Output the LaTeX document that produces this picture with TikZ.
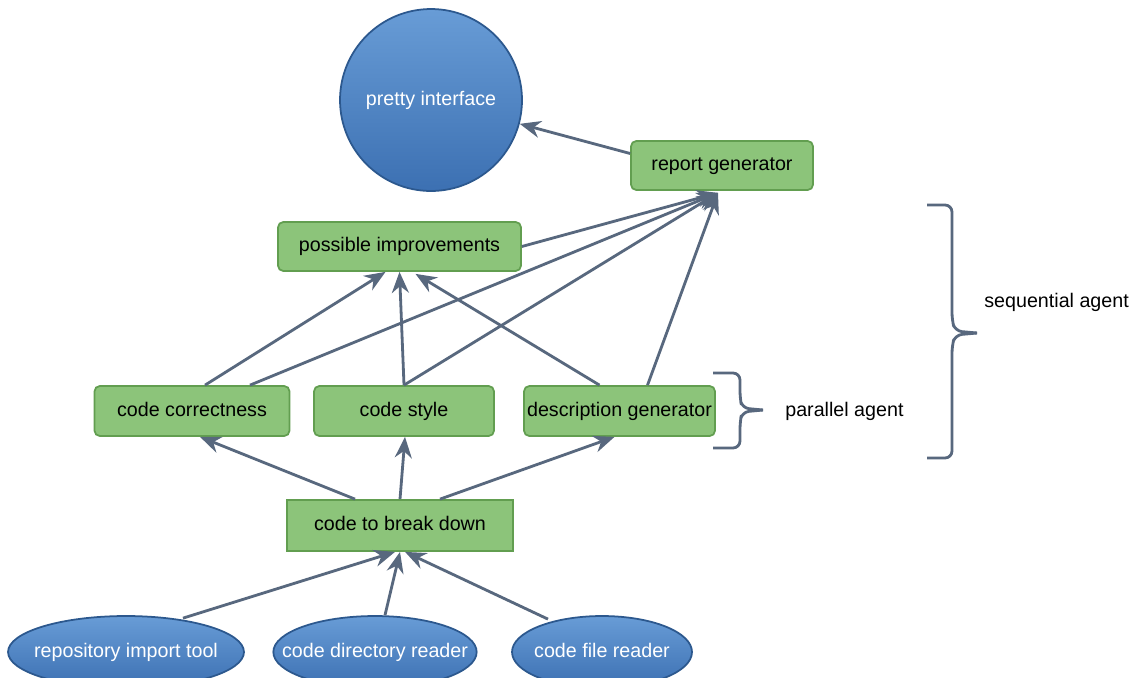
\documentclass[tikz,border=0pt]{standalone}
\usepackage{fontspec}
\setmainfont{Liberation Sans}
\usetikzlibrary{arrows.meta,calc,shapes.geometric}
\definecolor{boxgreen}{RGB}{140,196,122}
\definecolor{boxedge}{RGB}{98,158,80}
\definecolor{bluetop}{RGB}{104,156,214}
\definecolor{bluebot}{RGB}{60,112,178}
\definecolor{blueedge}{RGB}{44,88,142}
\definecolor{wire}{RGB}{88,104,126}
\begin{document}
\begin{tikzpicture}[x=0.02cm,y=-0.02cm,
  font=\fontsize{11.2}{13}\selectfont,
  box/.style={draw=boxedge, fill=boxgreen, line width=1pt, rounded corners=3pt, minimum height=0.98cm, text height=8.2pt, text depth=2.4pt},
  blob/.style={draw=blueedge, top color=bluetop, bottom color=bluebot, line width=1pt, text=white},
  oval/.style={blob, ellipse, inner xsep=-12pt, inner ysep=0pt, minimum height=1.44cm, text height=8.2pt, text depth=2.4pt},
  wr/.style={draw=wire, line width=1.6pt, -{Stealth[length=4.2mm,width=3.4mm]}},
  brk/.style={draw=wire, line width=1.6pt, rounded corners=4pt}]
\useasboundingbox (0,0) rectangle (1131,677);
\fill[white] (0,0) rectangle (1131,677);
\node[blob, circle, minimum size=3.64cm] (iface) at (431,100){pretty interface};
\node[box, minimum width=3.64cm] (report) at (722,165.5){report generator};
\node[box, minimum width=4.86cm] (improve) at (399.5,246.5){possible improvements};
\node[box, minimum width=3.9cm, minimum height=1cm] (correct) at (192,411){code correctness};
\node[box, minimum width=3.6cm, minimum height=1cm] (cstyle) at (404,411){code style};
\node[box, minimum width=3.82cm, minimum height=1cm, inner xsep=1pt] (descr) at (619.5,411){description generator};
\node[box, rounded corners=0pt, minimum width=4.52cm, minimum height=1.02cm] (breakdown) at (400,525.5){code to break down};
\node[oval, minimum width=4.72cm] (repo) at (126,652){repository import tool};
\node[oval, minimum width=4.06cm] (dirread) at (375,652){code directory reader};
\node[oval, minimum width=3.6cm] (fileread) at (602,652){code file reader};
% into the report
\draw[wr] ($(report.west)+(0,-12)$) -- (iface);
\draw[wr] (improve.east) -- ($(report.south)+(-4,2)$);
\draw[wr] ($(correct.north)+(58,0)$) -- ($(report.south)+(-4,2)$);
\draw[wr] (cstyle.north) -- ($(report.south)+(-4,2)$);
\draw[wr] ($(descr.north)+(28,0)$) -- ($(report.south)+(-4,2)$);
% into the improvements
\draw[wr] ($(correct.north)+(13,0)$) -- ($(improve.south)+(-14,0)$);
\draw[wr] (cstyle.north) -- (improve.south);
\draw[wr] ($(descr.north)+(-20,0)$) -- ($(improve.south)+(16,2)$);
% break down
\draw[wr] ($(breakdown.north)+(-45,0)$) -- ($(correct.south)+(8,0)$);
\draw[wr] (breakdown.north) -- ($(cstyle.south)+(1,0)$);
\draw[wr] ($(breakdown.north)+(40,0)$) -- ($(descr.south)+(-5,0)$);
% readers
\draw[wr] ($(repo.north)+(57,3)$) -- ($(breakdown.south)+(-5,0)$);
\draw[wr] ($(dirread.north)+(10,0)$) -- (breakdown.south);
\draw[wr] ($(fileread.north)+(-54,4)$) -- ($(breakdown.south)+(5,0)$);
% braces
\coordinate (ptip) at (763,410);
\coordinate (stip) at (977,333);
\draw[brk] (713,373) -- (740,373) -- (740,398) -- (742,408) -- (ptip);
\draw[brk] (713,448) -- (740,448) -- (740,422) -- (742,412) -- (ptip);
\draw[brk] (927,205) -- (952,205) -- (952,320) -- (955,331) -- (stip);
\draw[brk] (927,458) -- (952,458) -- (952,346) -- (955,335) -- (stip);
\node[anchor=west, inner sep=0pt] (par) at (785,411){parallel agent};
\node[anchor=west, inner sep=0pt] (seq) at (984,302){sequential agent};
\end{tikzpicture}
\end{document}
